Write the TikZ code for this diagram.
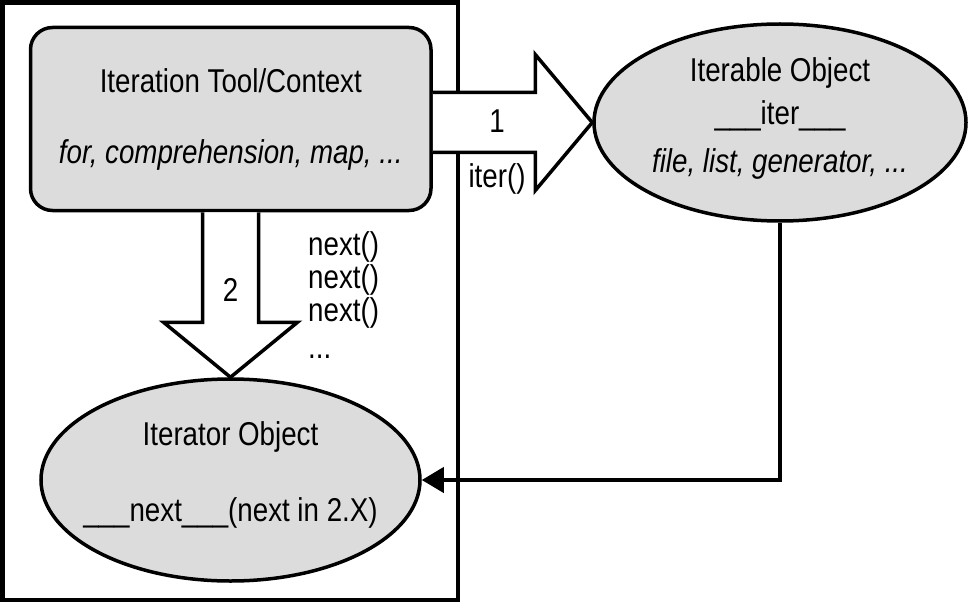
\documentclass[tikz,border=0pt]{standalone}
\usepackage{fontspec}
\setmainfont[FakeStretch=0.84]{Liberation Sans}
\usetikzlibrary{shapes.geometric,arrows.meta,calc}
\definecolor{shapegray}{HTML}{DCDCDC}
\begin{document}
\begin{tikzpicture}[x=1pt,y=-1pt,
  txt/.style={font=\fontsize{33}{35}\selectfont, inner sep=0pt, anchor=base},
  itxt/.style={txt, font=\fontsize{33}{35}\selectfont\itshape},
  framebox/.style={draw, line width=4.5pt, inner sep=0pt},
  toolbox/.style={draw, line width=3.5pt, fill=shapegray, rounded corners=22pt, inner sep=0pt},
  objell/.style={draw, ellipse, line width=3.5pt, fill=shapegray, inner sep=0pt},
  blockarrow/.style={draw, fill=white, line width=3.5pt, line join=miter},
  conn/.style={draw, line width=4pt, -{Triangle[length=22pt,width=25pt]}}
]
\useasboundingbox (0,0) rectangle (973,604);

% outer frame
\node[framebox, minimum width=455.5pt, minimum height=597.5pt] (frame) at (230.25,301.25) {};

% shapes
\node[toolbox, minimum width=400.5pt, minimum height=183pt] (ctx) at (230.75,119) {};
\node[objell, minimum width=372pt, minimum height=197pt] (it) at (780,122.5) {};
\node[objell, minimum width=379pt, minimum height=202pt] (itor) at (230.5,480) {};

% block arrow 1
\coordinate (a1t) at ($(it.west)+(-57,-30)$);
\coordinate (a1b) at ($(it.west)+(-57,30)$);
\path[blockarrow] (ctx.east |- a1t) -- (a1t) -- ($(it.west)+(-57,-68)$) -- (it.west)
  -- ($(it.west)+(-57,68)$) -- (a1b) -- (ctx.east |- a1b);

% block arrow 2
\coordinate (a2l) at ($(itor.north)+(-28,-55)$);
\coordinate (a2r) at ($(itor.north)+(28,-55)$);
\path[blockarrow] (a2l |- ctx.south) -- (a2l) -- ($(itor.north)+(-67,-55)$) -- (itor.north)
  -- ($(itor.north)+(67,-55)$) -- (a2r) -- (a2r |- ctx.south);

% connector
\path[conn] (it.south) |- (itor.east);

% texts
\node[txt] (ctxa) at (230.75,93) {Iteration Tool/Context};
\node[itxt] (ctxb) at (230.75,164) {for, comprehension, map, ...};
\node[txt] (ita) at (780,82) {Iterable Object};
\node[txt] (itb) at (780,125) {\_\_\_iter\_\_\_};
\node[itxt] (itc) at (780,172) {file, list, generator, ...};
\node[txt] (one) at (497,133) {1};
\node[txt] (iterfn) at (497,187) {iter()};
\node[txt] (two) at (230.5,301) {2};
\node[txt, anchor=base west] (n1) at (308,255) {next()};
\node[txt, anchor=base west] (n2) at (308,288) {next()};
\node[txt, anchor=base west] (n3) at (308,321) {next()};
\node[txt, anchor=base west] (n4) at (308,358) {...};
\node[txt] (itora) at (230.5,445) {Iterator Object};
\node[txt] (itorb) at (230.5,521) {\_\_\_next\_\_\_(next in 2.X)};
\end{tikzpicture}
\end{document}
